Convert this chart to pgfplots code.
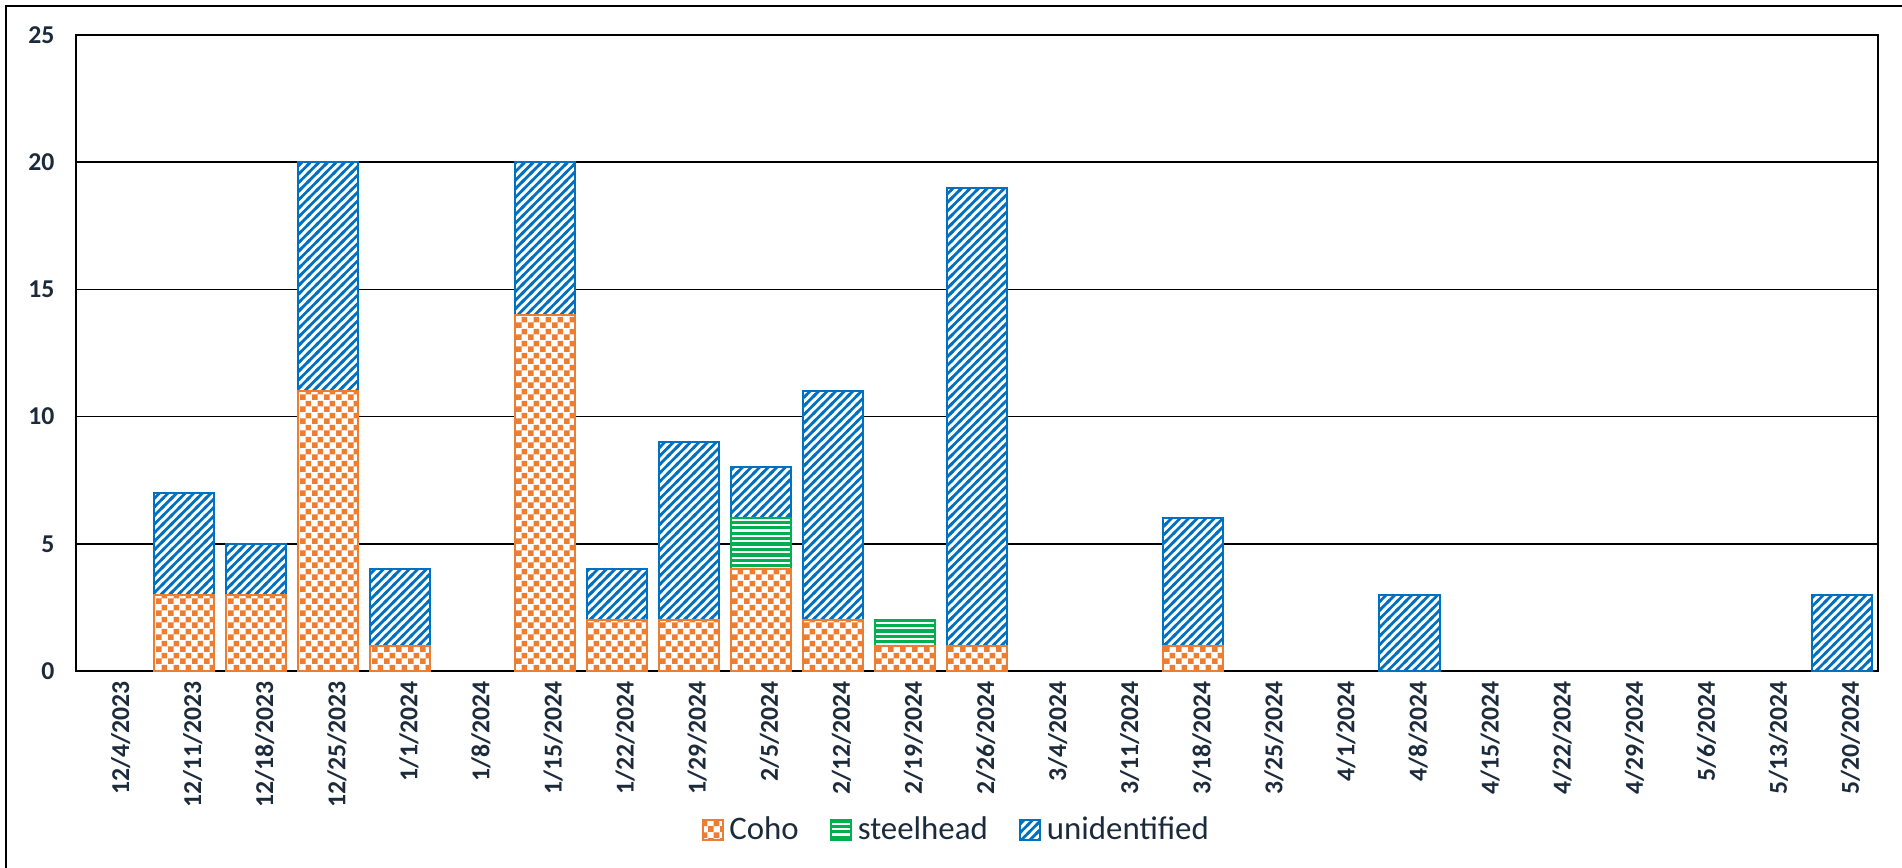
\documentclass[border=0pt]{standalone}
\usepackage{pgfplots}
\pgfplotsset{compat=1.18}
\usepackage{pgfplotstable}
\usepackage{fontspec}
\setmainfont{Carlito}
\usetikzlibrary{patterns}
\definecolor{cOrange}{HTML}{ED7D31}
\definecolor{cGreen}{HTML}{00B050}
\definecolor{cBlue}{HTML}{0070C0}
\definecolor{cText}{HTML}{1C2B3C}

\pgfdeclarepatternformonly{mychecker}{\pgfqpoint{0pt}{0pt}}{\pgfqpoint{4.2pt}{4.2pt}}{\pgfqpoint{4.2pt}{4.2pt}}{%
  \pgfpathrectangle{\pgfqpoint{0pt}{0pt}}{\pgfqpoint{2.1pt}{2.1pt}}%
  \pgfpathrectangle{\pgfqpoint{2.1pt}{2.1pt}}{\pgfqpoint{2.1pt}{2.1pt}}%
  \pgfusepath{fill}}
\pgfdeclarepatternformonly{mydiag}{\pgfqpoint{-1pt}{-1pt}}{\pgfqpoint{4pt}{4pt}}{\pgfqpoint{3pt}{3pt}}{%
  \pgfsetlinewidth{0.95pt}%
  \pgfpathmoveto{\pgfqpoint{-0.5pt}{-0.5pt}}%
  \pgfpathlineto{\pgfqpoint{3.5pt}{3.5pt}}%
  \pgfusepath{stroke}}
\pgfdeclarepatternformonly{myhoriz}{\pgfqpoint{-0.5pt}{0pt}}{\pgfqpoint{2.5pt}{1.9pt}}{\pgfqpoint{1.9pt}{1.9pt}}{%
  \pgfsetlinewidth{1.15pt}%
  \pgfpathmoveto{\pgfqpoint{-0.5pt}{0.95pt}}%
  \pgfpathlineto{\pgfqpoint{2.5pt}{0.95pt}}%
  \pgfusepath{stroke}}

\pgfplotstableread{
x coho steel unid
0 0 0 0
1 3 0 4
2 3 0 2
3 11 0 9
4 1 0 3
5 0 0 0
6 14 0 6
7 2 0 2
8 2 0 7
9 4 2 2
10 2 0 9
11 1 1 0
12 1 0 18
13 0 0 0
14 0 0 0
15 1 0 5
16 0 0 0
17 0 0 0
18 0 0 3
19 0 0 0
20 0 0 0
21 0 0 0
22 0 0 0
23 0 0 0
24 0 0 3
}\fishdata

\begin{document}
\begin{tikzpicture}
\useasboundingbox (-26.6pt,-68.6pt) rectangle (639.1pt,234.85pt);
\draw[line width=1pt, black] (-24.5pt,-70pt) -- (-24.5pt,232.75pt) -- (640pt,232.75pt);
\begin{axis}[
  at={(0,0)}, anchor=south west,
  scale only axis,
  width=630.7pt, height=222.6pt,
  ybar stacked,
  stacked ignores zero,
  bar width=21pt,
  xmin=-0.5, xmax=24.5,
  ymin=0, ymax=25,
  ytick={0,5,...,25},
  xtick={0,...,24},
  xticklabels={12/4/2023,12/11/2023,12/18/2023,12/25/2023,1/1/2024,1/8/2024,1/15/2024,1/22/2024,1/29/2024,2/5/2024,2/12/2024,2/19/2024,2/26/2024,3/4/2024,3/11/2024,3/18/2024,3/25/2024,4/1/2024,4/8/2024,4/15/2024,4/22/2024,4/29/2024,5/6/2024,5/13/2024,5/20/2024},
  major tick length=0pt,
  ymajorgrids,
  grid style={black, line width=0.6pt},
  axis line style={black, line width=0.9pt},
  /pgf/number format/assume math mode=true,
  ticklabel style={font=\bfseries\fontsize{9}{10}\selectfont, text=cText},
  xticklabel style={rotate=90, anchor=east, yshift=-3pt},
  yticklabel style={xshift=-4pt},
  legend columns=3,
  legend style={at={(0.4895,-0.25)}, anchor=center, draw=none, fill=none,
    font=\fontsize{11.5}{13}\selectfont, text=cText,
    /tikz/every even column/.append style={column sep=9pt}},
  legend image code/.code={\draw[#1] (0pt,-3.5pt) rectangle (7pt,3.5pt);},
]
\addplot[draw=cOrange, line width=0.7pt, fill=white, postaction={pattern=mychecker, pattern color=cOrange}] table[x=x, y=coho] {\fishdata};
\addlegendentry{Coho}
\addplot[draw=cGreen, line width=0.7pt, fill=white, postaction={pattern=myhoriz, pattern color=cGreen}] table[x=x, y=steel] {\fishdata};
\addlegendentry{steelhead}
\addplot[draw=cBlue, line width=0.7pt, fill=white, postaction={pattern=mydiag, pattern color=cBlue}] table[x=x, y=unid] {\fishdata};
\addlegendentry{unidentified}
\end{axis}
\end{tikzpicture}
\end{document}
